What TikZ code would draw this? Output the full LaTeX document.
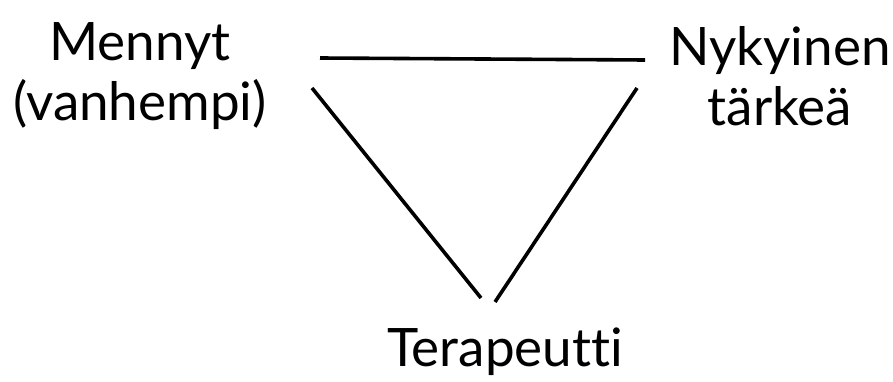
\documentclass[tikz,border=0pt]{standalone}
\usepackage{fontspec}
\setmainfont{Lato}[Ligatures=NoCommon]
\begin{document}
\begin{tikzpicture}[x=1pt, y=-1pt,
      every node/.style={font=\fontsize{53}{60}\selectfont, align=center, inner sep=0pt},
      edge/.style={line width=3.6pt, line cap=butt}]
    \useasboundingbox (0,0) rectangle (893,382);
    \node (past) at (140,76) {Mennyt\\(vanhempi)};
    \node (now) at (780,76) {Nykyinen\\tärkeä};
    \node (ther) at (505,352) {Terapeutti};
    % line ends
    \coordinate (p1) at (320,58);
    \coordinate (n1) at (645,60);
    \coordinate (p2) at (312,88);
    \coordinate (t1) at (481,298);
    \coordinate (n2) at (637,88);
    \coordinate (t2) at (495,302);
    \draw[edge] (p1) -- (n1);
    \draw[edge] (p2) -- (t1);
    \draw[edge] (n2) -- (t2);
  \end{tikzpicture}
\end{document}
